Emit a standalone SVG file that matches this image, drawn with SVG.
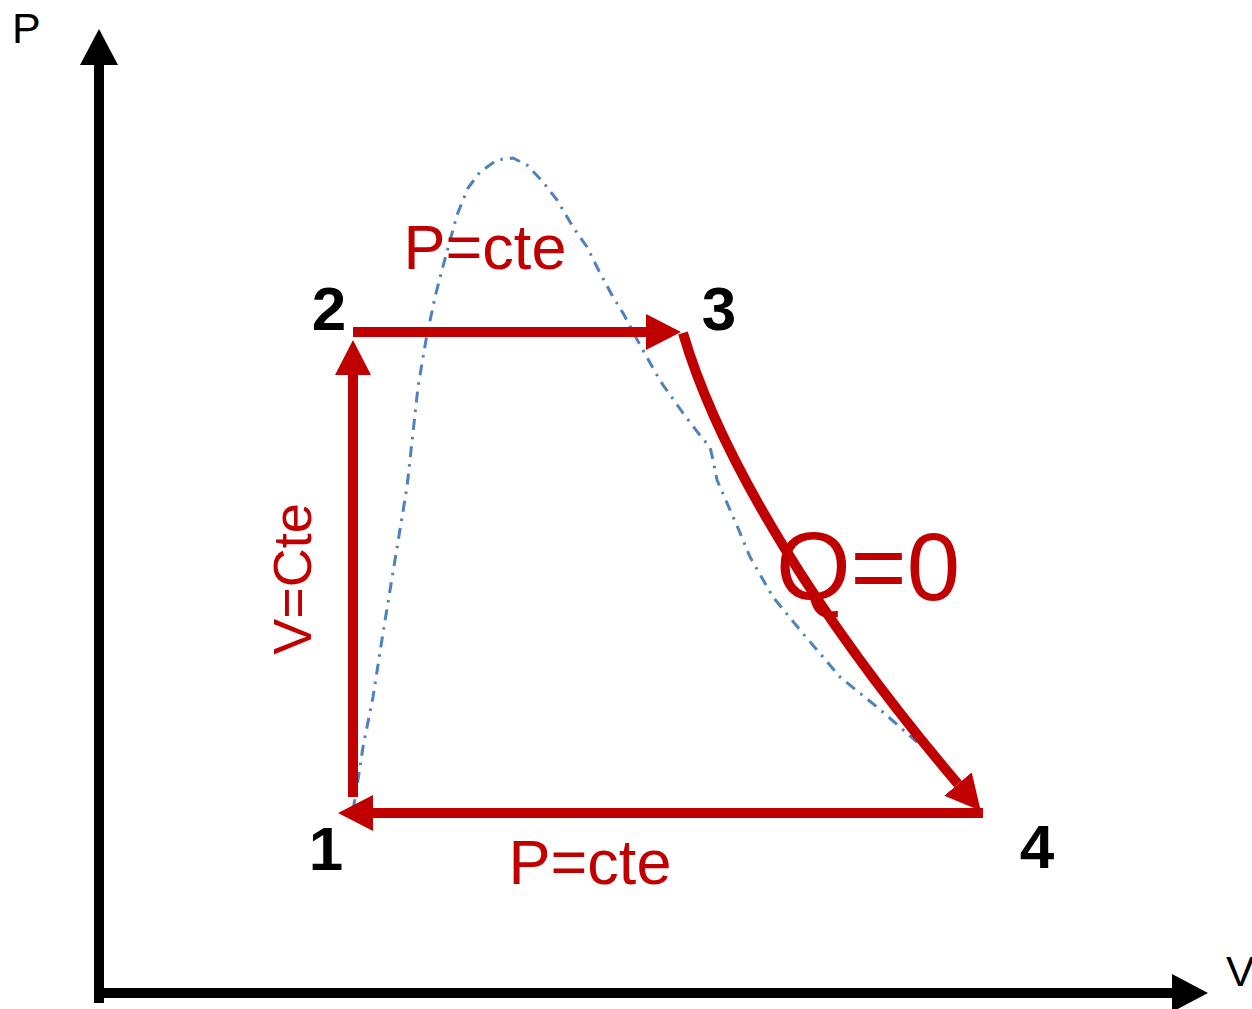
<svg xmlns="http://www.w3.org/2000/svg" width="1252" height="1009" viewBox="0 0 1252 1009">
<style>
.axis{stroke:#000;stroke-width:10;fill:none}
.cyc{stroke:#C00000;stroke-width:10;fill:none}
.dome{stroke:#4F81BD;stroke-width:3;fill:none;stroke-dasharray:11 7 2.5 7;stroke-linejoin:round}
.num{font-family:"Liberation Sans",Arial,sans-serif;font-weight:bold;font-size:62px;fill:#000;text-anchor:middle}
.lbl{font-family:"Liberation Sans",Arial,sans-serif;fill:#C00000;text-anchor:middle}
.ax{font-family:"Liberation Sans",Arial,sans-serif;font-size:43px;fill:#000}
</style>
<defs>
<marker id="ah-black" markerUnits="userSpaceOnUse" markerWidth="36" markerHeight="38" refX="0" refY="19" orient="auto" viewBox="0 0 36 38">
<path d="M0,0 L36,19 L0,38 z" fill="#000"/>
</marker>
<marker id="ah-red" markerUnits="userSpaceOnUse" markerWidth="35" markerHeight="36" refX="0" refY="18" orient="auto" viewBox="0 0 35 36">
<path d="M0,0 L35,18 L0,36 z" fill="#C00000"/>
</marker>
</defs>
<g id="axes">
<line class="axis" x1="99" y1="1003" x2="99" y2="65" marker-end="url(#ah-black)"/>
<line class="axis" x1="94" y1="993" x2="1172" y2="993" marker-end="url(#ah-black)"/>
<text class="ax" x="12" y="43">P</text>
<text class="ax" x="1226" y="986" font-size="42">V</text>
</g>
<g id="dome">
<path class="dome" d="M353,810 L356,793 L363,747 L373,697 L383,633 L395,560 L407,487 L418,387 L426,340 L435,297 L442,270 L457,215 L468,188 L480,172 L497,160 L513,158 L527,165 L543,182 L557,200 L573,227 L587,247 L600,273 L613,297 L623,313 L640,345 L658,377 L663,385 L683,413 L702,438 L710,447 L713,460 L717,480 L727,503 L738,528 L750,557 L773,597 L800,630 L840,677 L877,707 L917,742"/>
</g>
<g id="connectors">
<line class="cyc" x1="353" y1="797" x2="353" y2="375" marker-end="url(#ah-red)"/>
<line class="cyc" x1="353" y1="332" x2="646" y2="332" marker-end="url(#ah-red)"/>
<path class="cyc" d="M683,333 C720,460 822,624 958,784" marker-end="url(#ah-red)"/>
<line class="cyc" x1="983" y1="813" x2="373" y2="813" marker-end="url(#ah-red)"/>
</g>
<g id="node-1"><text class="num" x="326" y="870">1</text></g>
<g id="node-2"><text class="num" x="329" y="330">2</text></g>
<g id="node-3"><text class="num" x="719" y="330">3</text></g>
<g id="node-4"><text class="num" x="1037" y="868">4</text></g>
<g id="labels">
<text class="lbl" x="485" y="269" font-size="63">P=cte</text>
<text class="lbl" x="590" y="884" font-size="63">P=cte</text>
<text class="lbl" x="868" y="600" font-size="96">Q=0</text>
<text class="lbl" font-size="54" transform="translate(311,579) rotate(-90)">V=Cte</text>
</g>
</svg>
